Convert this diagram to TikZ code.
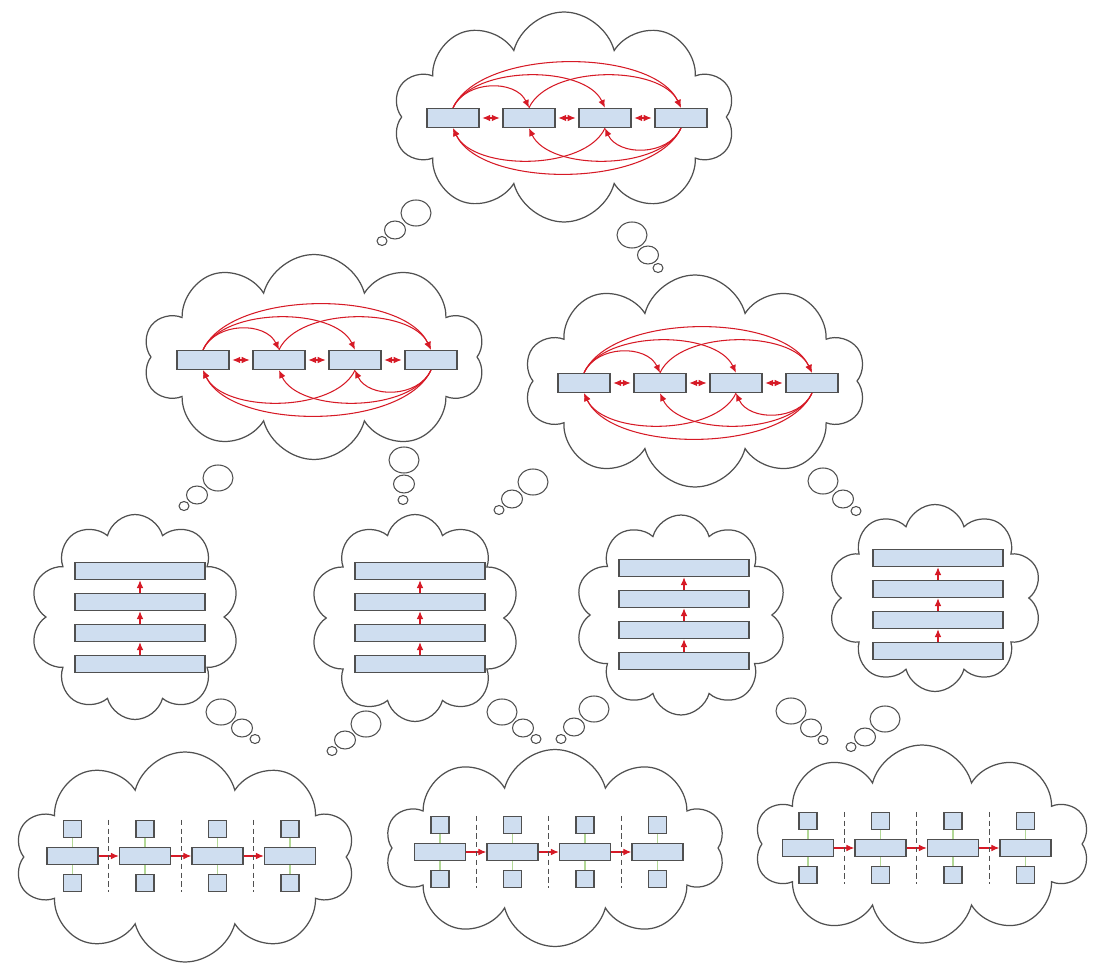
\documentclass[tikz,border=0pt]{standalone}
\usepackage{tikz}
\usetikzlibrary{shapes,arrows.meta,calc,positioning}
\definecolor{boxblue}{RGB}{207,222,240}
\definecolor{edge}{RGB}{80,80,80}
\definecolor{arrowred}{RGB}{214,26,38}
\definecolor{linkgreen}{RGB}{178,216,150}
\tikzstyle{cloudy} = [cloud, draw=edge, line width=0.7pt, cloud puffs=10,
    cloud ignores aspect, inner sep=0pt]
\tikzstyle{block} = [rectangle, draw=edge, fill=boxblue, line width=0.8pt,
    minimum width=1.04cm, minimum height=0.38cm]
\tikzstyle{bar} = [block, minimum width=2.6cm, minimum height=0.34cm]
\tikzstyle{unit} = [block, minimum width=1.02cm, minimum height=0.34cm]
\tikzstyle{cell} = [block, minimum width=0.36cm, minimum height=0.34cm]
\tikzstyle{line} = [draw, arrowred, line width=0.6pt, -{Latex[length=4.5pt,width=3.8pt]}]
\tikzstyle{both} = [line, {Latex[length=4.5pt,width=3.8pt]}-{Latex[length=4.5pt,width=3.8pt]},
    shorten <=1.5pt, shorten >=1.5pt]
\tikzstyle{link} = [draw, linkgreen, line width=1.1pt]
\tikzstyle{sep} = [draw, edge, densely dashed, line width=0.6pt]
\tikzstyle{bubble} = [draw=edge, line width=0.6pt]

\begin{document}
\begin{tikzpicture}[x=0.02cm, y=-0.02cm, node distance=1.52cm]
    \useasboundingbox (0,0) rectangle (1106,973);
    % Place clouds
    \node [cloudy, minimum width=6.84cm, minimum height=4.2cm] (cTop) at (564,117) {};
    \node [cloudy, minimum width=6.84cm, minimum height=4.1cm] (cMidL) at (314,357) {};
    \node [cloudy, minimum width=6.84cm, minimum height=4.24cm] (cMidR) at (695,381) {};
    \node [cloudy, minimum width=4.2cm, minimum height=4.1cm] (cA) at (135,617) {};
    \node [cloudy, minimum width=4.2cm, minimum height=4.14cm] (cB) at (415,618) {};
    \node [cloudy, minimum width=4.24cm, minimum height=4.0cm] (cC) at (681,615) {};
    \node [cloudy, minimum width=4.28cm, minimum height=3.74cm] (cD) at (935,598) {};
    \node [cloudy, minimum width=6.8cm, minimum height=4.2cm] (cE) at (185,857) {};
    \node [cloudy, minimum width=6.8cm, minimum height=3.94cm] (cF) at (555,848) {};
    \node [cloudy, minimum width=6.7cm, minimum height=3.96cm] (cG) at (922,844) {};
    % Thought bubbles
    \foreach \ax/\ay/\bx/\by/\cx/\cy in {416/213/395/230/382/241, 632/235/648/255/658/268,
        218/478/197/495/184/506, 404/460/404/484/403/500, 533/482/512/499/499/510,
        823/481/843/499/856/511, 221/712/242/728/255/739, 366/724/345/740/332/751,
        502/712/523/728/536/739, 594/709/574/727/561/739, 791/711/811/728/823/740,
        885/719/865/737/851/747} {
        \draw [bubble] (\ax,\ay) ellipse (0.3cm and 0.26cm);
        \draw [bubble] (\bx,\by) ellipse (0.21cm and 0.18cm);
        \draw [bubble] (\cx,\cy) ellipse (0.1cm and 0.09cm);
    }
    % Fully linked rows
    \node [block] (t1) at (453,118) {};
    \node [block] (l1) at (203,360) {};
    \node [block] (r1) at (584,383) {};
    \foreach \p in {t,l,r} {
        \node [block, right of=\p1] (\p2) {};
        \node [block, right of=\p2] (\p3) {};
        \node [block, right of=\p3] (\p4) {};
        \path [both] (\p1) -- (\p2);
        \path [both] (\p2) -- (\p3);
        \path [both] (\p3) -- (\p4);
        \path [line] (\p1.north) to[out=65, in=115, looseness=1.05] (\p2.north);
        \path [line] (\p1.north) to[out=65, in=115, looseness=0.8] (\p3.north);
        \path [line] (\p2.north) to[out=65, in=115, looseness=0.8] (\p4.north);
        \path [line] (\p1.north) to[out=65, in=115, looseness=0.75] (\p4.north);
        \path [line] (\p4.south) to[out=-115, in=-65, looseness=1.05] (\p3.south);
        \path [line] (\p4.south) to[out=-115, in=-65, looseness=0.8] (\p2.south);
        \path [line] (\p3.south) to[out=-115, in=-65, looseness=0.8] (\p1.south);
        \path [line] (\p4.south) to[out=-115, in=-65, looseness=0.75] (\p1.south);
    }
    % Stacked layers
    \foreach \p/\x/\y in {a/140/664, b/420/664, c/684/661, d/938/651} {
        \node [bar] (\p1) at (\x,\y) {};
        \node [bar, above of=\p1, node distance=0.62cm] (\p2) {};
        \node [bar, above of=\p2, node distance=0.62cm] (\p3) {};
        \node [bar, above of=\p3, node distance=0.62cm] (\p4) {};
        \path [line] (\p1) -- (\p2);
        \path [line] (\p2) -- (\p3);
        \path [line] (\p3) -- (\p4);
    }
    % Pipelines
    \foreach \p/\x/\y in {e/72.5/856, f/440/852, g/808/848} {
        \foreach \k in {1,2,3,4} {
            \node [unit] (\p\k) at ({\x+72.5*(\k-1)},\y) {};
            \node [cell, above of=\p\k, node distance=0.54cm] (u\p\k) {};
            \node [cell, below of=\p\k, node distance=0.54cm] (d\p\k) {};
            \path [link] (u\p\k) -- (\p\k);
            \path [link] (d\p\k) -- (\p\k);
        }
        \foreach \k/\n in {1/2, 2/3, 3/4} {
            \path [line] (\p\k) -- (\p\n);
            \path [sep] ($(u\p\k.north)!0.5!(u\p\n.north)$) -- ($(d\p\k.south)!0.5!(d\p\n.south)$);
        }
    }
\end{tikzpicture}
\end{document}
